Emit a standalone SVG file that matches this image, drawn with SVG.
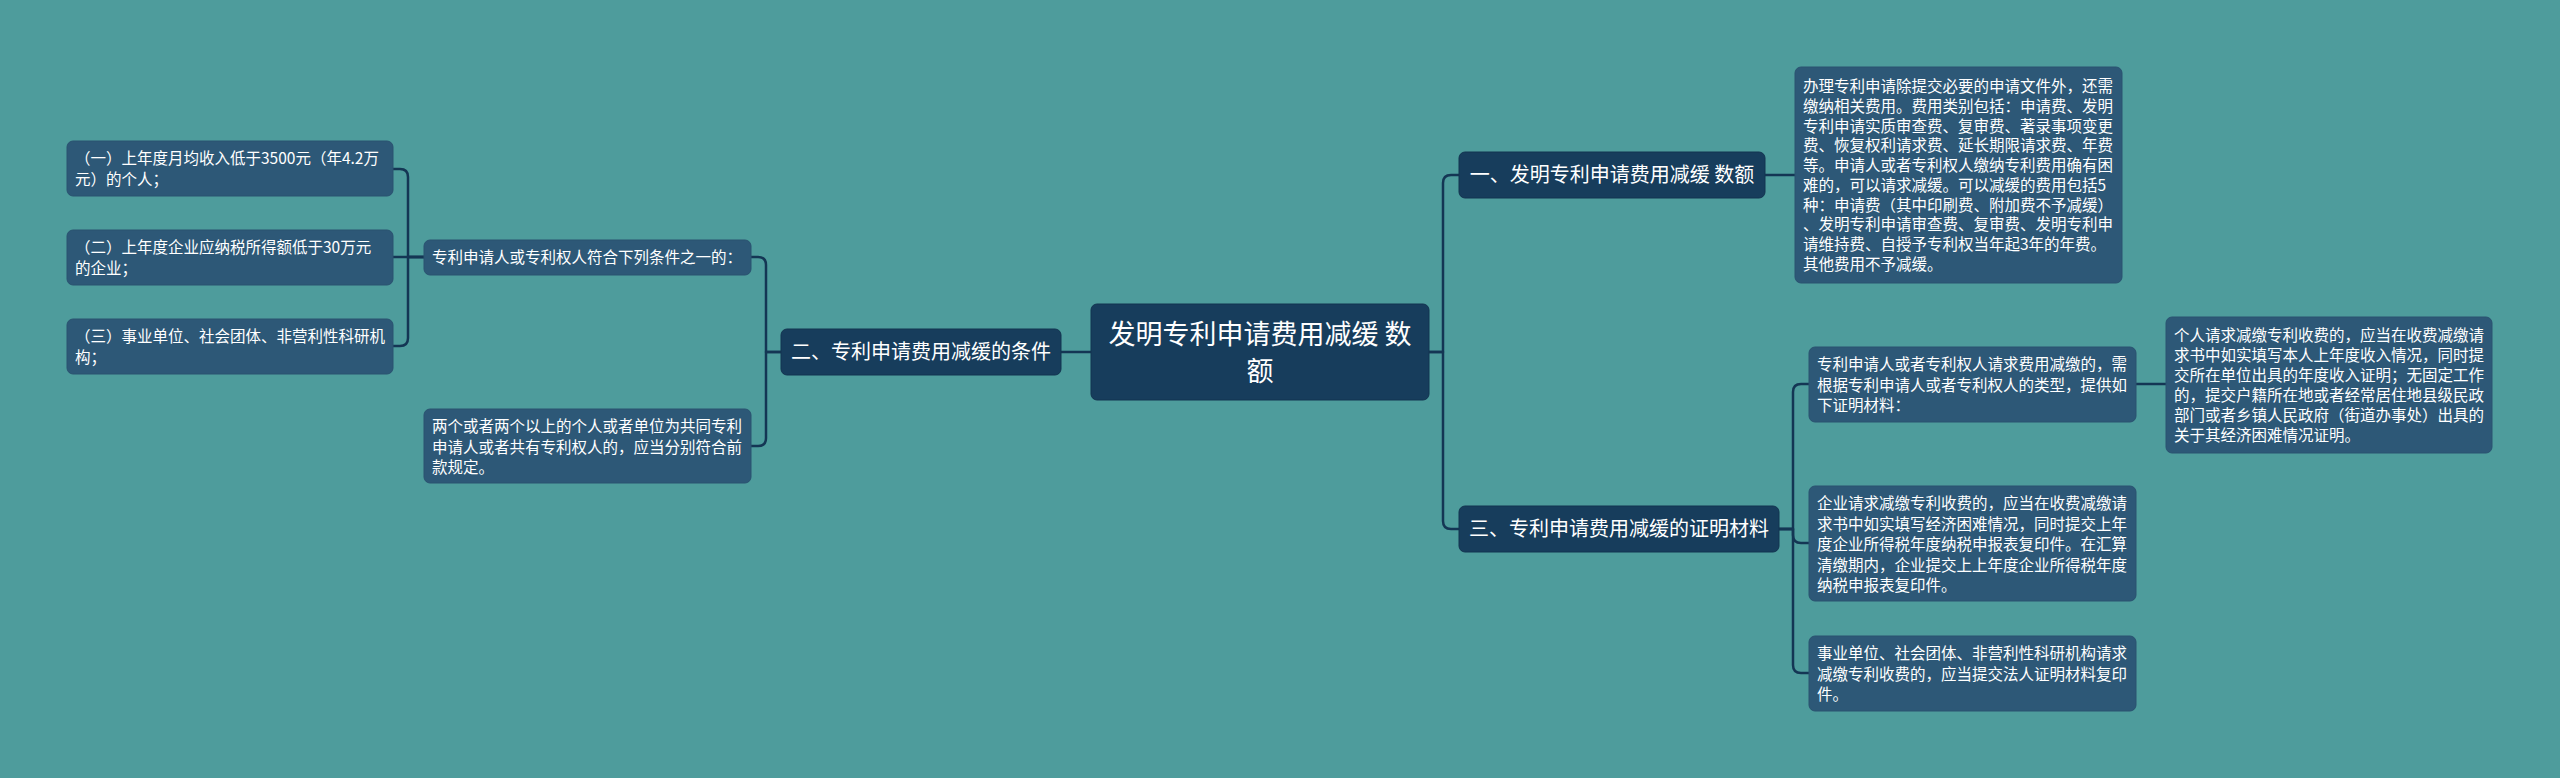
<svg xmlns="http://www.w3.org/2000/svg" width="2560" height="778" viewBox="0 0 2560 778">
<style>
.bg{fill:#4E9C9C}
.main{fill:#173D5C;stroke:#133450;stroke-width:1}
.leaf{fill:#2D5877;stroke:#2A5270;stroke-width:1}
.c{fill:none;stroke:#143654;stroke-width:2.5;stroke-linecap:round;stroke-linejoin:round}
text{font-family:"Noto Sans CJK SC","Noto Sans",sans-serif;fill:#FFFFFF}
.t26{font-size:27px}
.t20{font-size:20px}
.t15{font-size:15.5px}
</style>
<rect class="bg" x="0" y="0" width="2560" height="778"/>
<g id="connectors">
<path class="c" d="M1091,352 H1061"/>
<path class="c" d="M1429,352 H1443 V183 Q1443,175 1451,175 H1459"/>
<path class="c" d="M1429,352 H1443 V521 Q1443,529 1451,529 H1459"/>
<path class="c" d="M1765,175 H1795"/>
<path class="c" d="M1779,529 H1793 V392 Q1793,384 1801,384 H1809"/>
<path class="c" d="M1779,529 H1793 V535 Q1793,543 1801,543 H1809"/>
<path class="c" d="M1779,529 H1793 V665 Q1793,673 1801,673 H1809"/>
<path class="c" d="M2136,384 H2166"/>
<path class="c" d="M781,352 H766 V265 Q766,257 758,257 H751"/>
<path class="c" d="M781,352 H766 V438 Q766,446 758,446 H751"/>
<path class="c" d="M424,257 H408 V177 Q408,169 400,169 H393"/>
<path class="c" d="M424,257 H393"/>
<path class="c" d="M424,257 H408 V338 Q408,346 400,346 H393"/>
</g>
<g id="root">
<rect class="main" x="1091" y="304" width="338" height="96" rx="6"/>
<text class="t26" x="1260" y="344" text-anchor="middle">发明专利申请费用减缓 数</text>
<text class="t26" x="1260" y="381" text-anchor="middle">额</text>
</g>
<g id="n1">
<rect class="main" x="1459" y="152" width="306" height="46" rx="6"/>
<text class="t20" x="1612" y="182" text-anchor="middle">一、发明专利申请费用减缓 数额</text>
</g>
<g id="n2">
<rect class="main" x="781" y="329" width="280" height="46" rx="6"/>
<text class="t20" x="921" y="359" text-anchor="middle">二、专利申请费用减缓的条件</text>
</g>
<g id="n3">
<rect class="main" x="1459" y="506" width="320" height="46" rx="6"/>
<text class="t20" x="1619" y="536" text-anchor="middle">三、专利申请费用减缓的证明材料</text>
</g>
<g id="r1">
<rect class="leaf" x="1795" y="67" width="327" height="216" rx="6"/>
<text class="t15" x="1803" y="92">办理专利申请除提交必要的申请文件外，还需</text>
<text class="t15" x="1803" y="112">缴纳相关费用。费用类别包括：申请费、发明</text>
<text class="t15" x="1803" y="132">专利申请实质审查费、复审费、著录事项变更</text>
<text class="t15" x="1803" y="151">费、恢复权利请求费、延长期限请求费、年费</text>
<text class="t15" x="1803" y="171">等。申请人或者专利权人缴纳专利费用确有困</text>
<text class="t15" x="1803" y="191">难的，可以请求减缓。可以减缓的费用包括5</text>
<text class="t15" x="1803" y="211">种：申请费（其中印刷费、附加费不予减缓）</text>
<text class="t15" x="1803" y="230">、发明专利申请审查费、复审费、发明专利申</text>
<text class="t15" x="1803" y="250">请维持费、自授予专利权当年起3年的年费。</text>
<text class="t15" x="1803" y="270">其他费用不予减缓。</text>
</g>
<g id="ra">
<rect class="leaf" x="1809" y="347" width="327" height="75" rx="6"/>
<text class="t15" x="1817" y="370">专利申请人或者专利权人请求费用减缴的，需</text>
<text class="t15" x="1817" y="391">根据专利申请人或者专利权人的类型，提供如</text>
<text class="t15" x="1817" y="411">下证明材料：</text>
</g>
<g id="rc">
<rect class="leaf" x="2166" y="317" width="326" height="136" rx="6"/>
<text class="t15" x="2174" y="341">个人请求减缴专利收费的，应当在收费减缴请</text>
<text class="t15" x="2174" y="361">求书中如实填写本人上年度收入情况，同时提</text>
<text class="t15" x="2174" y="381">交所在单位出具的年度收入证明；无固定工作</text>
<text class="t15" x="2174" y="401">的，提交户籍所在地或者经常居住地县级民政</text>
<text class="t15" x="2174" y="421">部门或者乡镇人民政府（街道办事处）出具的</text>
<text class="t15" x="2174" y="441">关于其经济困难情况证明。</text>
</g>
<g id="rb">
<rect class="leaf" x="1809" y="486" width="327" height="115" rx="6"/>
<text class="t15" x="1817" y="509">企业请求减缴专利收费的，应当在收费减缴请</text>
<text class="t15" x="1817" y="530">求书中如实填写经济困难情况，同时提交上年</text>
<text class="t15" x="1817" y="550">度企业所得税年度纳税申报表复印件。在汇算</text>
<text class="t15" x="1817" y="571">清缴期内，企业提交上上年度企业所得税年度</text>
<text class="t15" x="1817" y="591">纳税申报表复印件。</text>
</g>
<g id="rd">
<rect class="leaf" x="1809" y="636" width="327" height="75" rx="6"/>
<text class="t15" x="1817" y="659">事业单位、社会团体、非营利性科研机构请求</text>
<text class="t15" x="1817" y="680">减缴专利收费的，应当提交法人证明材料复印</text>
<text class="t15" x="1817" y="700">件。</text>
</g>
<g id="m1">
<rect class="leaf" x="424" y="240" width="327" height="35" rx="6"/>
<text class="t15" x="432" y="263">专利申请人或专利权人符合下列条件之一的：</text>
</g>
<g id="m2">
<rect class="leaf" x="424" y="409" width="327" height="74" rx="6"/>
<text class="t15" x="432" y="432">两个或者两个以上的个人或者单位为共同专利</text>
<text class="t15" x="432" y="453">申请人或者共有专利权人的，应当分别符合前</text>
<text class="t15" x="432" y="473">款规定。</text>
</g>
<g id="l1">
<rect class="leaf" x="67" y="141" width="326" height="55" rx="6"/>
<text class="t15" x="75" y="164">（一）上年度月均收入低于3500元（年4.2万</text>
<text class="t15" x="75" y="185">元）的个人；</text>
</g>
<g id="l2">
<rect class="leaf" x="67" y="230" width="326" height="55" rx="6"/>
<text class="t15" x="75" y="253">（二）上年度企业应纳税所得额低于30万元</text>
<text class="t15" x="75" y="274">的企业；</text>
</g>
<g id="l3">
<rect class="leaf" x="67" y="319" width="326" height="55" rx="6"/>
<text class="t15" x="75" y="342">（三）事业单位、社会团体、非营利性科研机</text>
<text class="t15" x="75" y="363">构；</text>
</g>
</svg>
